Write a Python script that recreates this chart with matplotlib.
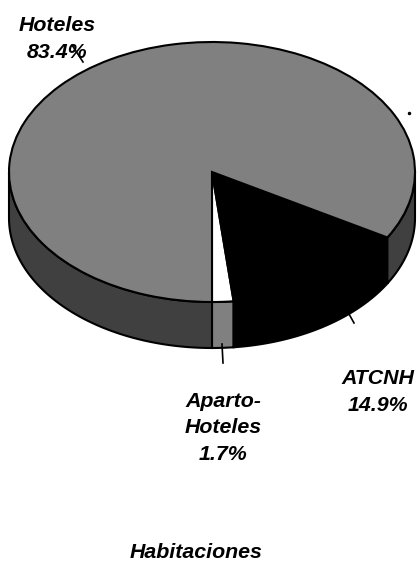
#!/usr/bin/env python3
# -*- coding: utf-8 -*-
import numpy as np
import matplotlib
matplotlib.use('Agg')
import matplotlib.pyplot as plt

plt.rcParams['font.family'] = ['Liberation Sans', 'DejaVu Sans']

categorias = ['Aparto-\nHoteles', 'ATCNH', 'Hoteles']
valores = [1.7, 14.9, 83.4]
colores = ['#ffffff', '#000000', '#808080']
colores_lado = ['#808080', '#000000', '#404040']
titulo = 'Habitaciones'

ANCHO, ALTO = 418, 561
CX, CY, RX, RY = 212, 172, 203, 130
PROF = 46 / RY
LW = 1.5
FUENTE = 15.4


def px(x, y):
    """Pasa pixeles de la imagen a coordenadas de datos del eje."""
    return (x - CX) / RX, (CY - y) / RY


fig = plt.figure(figsize=(ANCHO / 100, ALTO / 100), dpi=100)
ax = fig.add_axes([0, 0, 1, 1])

# tapa de la torta
ax.pie(valores, colors=colores, startangle=-90, radius=1,
       wedgeprops={'edgecolor': 'black', 'linewidth': LW, 'zorder': 3})
ax.set_aspect('auto')
ax.set_xlim(px(0, 0)[0], px(ANCHO, 0)[0])
ax.set_ylim(px(0, ALTO)[1], px(0, 0)[1])

# lados de la torta: solo la mitad de adelante se ve
ang = 180.0 + 90
for v, c in zip(valores, colores_lado):
    fin = ang + v * 3.6
    tramos = [(ang, min(fin, 360.0))]
    if fin > 540:
        tramos.append((540.0, fin))
    for a, b in tramos:
        if b <= a:
            continue
        t = np.radians(np.linspace(a, b, 120))
        xs = np.cos(t)
        ys = np.sin(t)
        ax.fill(np.r_[xs, xs[::-1]], np.r_[ys, ys[::-1] - PROF],
                facecolor=c, edgecolor='black', linewidth=LW, zorder=2)
    ang = fin

# lineas guia
guias = [((72, 83), (45, 62)), ((349, 354), (314, 323)), ((222, 223), (344, 363))]
for xs, ys in guias:
    p0 = px(xs[0], ys[0])
    p1 = px(xs[1], ys[1])
    ax.plot([p0[0], p1[0]], [p0[1], p1[1]], color='black', lw=1.2, zorder=4)
ax.plot(*px(409, 113), 'o', color='black', ms=1.5, zorder=4)

# etiquetas
etiquetas = [
    (categorias[2] + '\n%.1f%%' % valores[2], 57, 39),
    (categorias[1] + '\n%.1f%%' % valores[1], 378, 392),
    (categorias[0] + '\n%.1f%%' % valores[0], 223, 428),
]
for txt, x, y in etiquetas:
    ax.text(*px(x, y), txt, ha='center', va='center', fontsize=FUENTE,
            fontweight='bold', fontstyle='italic', linespacing=1.47, zorder=5)
ax.text(*px(196, 552), titulo, ha='center', va='center', fontsize=FUENTE,
        fontweight='bold', fontstyle='italic', zorder=5)

fig.savefig('out.png', dpi=100)
